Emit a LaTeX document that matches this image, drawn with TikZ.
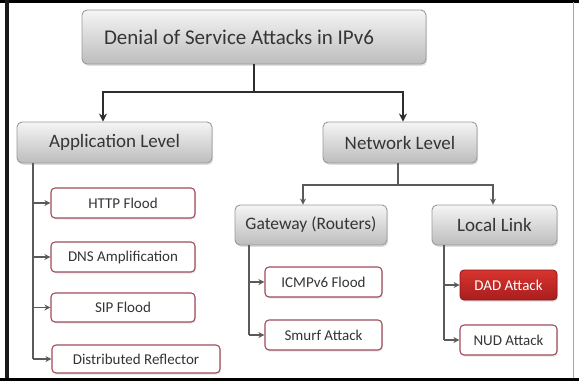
\documentclass[tikz,border=0pt]{standalone}
\usepackage{fontspec}
\setmainfont{Carlito}
\usetikzlibrary{arrows.meta,shadows}
\definecolor{txt}{HTML}{353535}
\definecolor{lvlborder}{HTML}{9A9A9A}
\definecolor{leafborder}{HTML}{9E4C5A}
\definecolor{lineclr}{HTML}{2E2E2E}
\definecolor{subline}{HTML}{5A5A5A}
\definecolor{dadtop}{HTML}{D8342E}
\definecolor{dadbot}{HTML}{A81E1E}
\tikzset{
  lvl/.style={draw=lvlborder, line width=0.9pt, rounded corners=5pt,
    top color=white!96!black, bottom color=white!74!black,
    text=txt, inner sep=0pt, align=center,
    drop shadow={opacity=0.25, shadow xshift=1.2pt, shadow yshift=-1.8pt}},
  leaf/.style={draw=leafborder, line width=1.1pt, rounded corners=4pt, fill=white,
    text=txt, inner sep=0pt, font=\fontsize{15}{17}\selectfont,
    drop shadow={opacity=0.2, shadow xshift=1pt, shadow yshift=-1.5pt}},
  dadbox/.style={draw=dadbot!80!black, line width=0.8pt, rounded corners=4pt,
    top color=dadtop, bottom color=dadbot, text=white, inner sep=0pt,
    font=\fontsize{15}{17}\selectfont,
    drop shadow={opacity=0.25, shadow xshift=1pt, shadow yshift=-1.5pt}},
  mainarr/.style={draw=lineclr, line width=1.8pt, -{Stealth[length=8pt,width=8pt]}},
  subarr/.style={draw=subline, line width=1.4pt, -{Stealth[length=6pt,width=6pt]}},
  subline/.style={draw=subline, line width=1.4pt},
}
\begin{document}
\begin{tikzpicture}[x=1pt,y=-1pt]
\useasboundingbox (0,0) rectangle (579,381);
\fill[white] (0,0) rectangle (579,381);
% frame
\fill[black] (0,0) rectangle (579,2.5);
\fill[black!90] (5,0) rectangle (9,381);
\fill[black] (0,378) rectangle (579,381);
\draw[black!35, line width=1pt] (573,2) -- (573,378);

% level nodes
\node[lvl, minimum width=344pt, minimum height=54pt, font=\fontsize{21}{24}\selectfont] (title) at (254,37) {Denial of Service Attacks in IPv6\hspace*{30pt}};
\node[lvl, minimum width=195pt, minimum height=41pt, font=\fontsize{19}{21}\selectfont] (app) at (114.5,142.5) {Application Level};
\node[lvl, minimum width=154pt, minimum height=41pt, font=\fontsize{19}{21}\selectfont] (net) at (400,142.5) {Network Level};
\node[lvl, minimum width=152pt, minimum height=40pt, font=\fontsize{17.5}{20}\selectfont] (gw) at (311,225) {Gateway (Routers)};
\node[lvl, minimum width=125pt, minimum height=40pt, font=\fontsize{19}{21}\selectfont] (ll) at (494.5,225) {Local Link};

% leaves
\node[leaf, minimum width=144pt, minimum height=30pt] (http) at (123,203) {HTTP Flood};
\node[leaf, minimum width=144pt, minimum height=30pt] (dns) at (123,257) {DNS Amplification};
\node[leaf, minimum width=144pt, minimum height=29pt] (sip) at (123,307.5) {SIP Flood};
\node[leaf, minimum width=168pt, minimum height=28pt] (dr) at (136,359) {Distributed Reflector};
\node[leaf, minimum width=117pt, minimum height=30pt] (icmp) at (323.5,282) {ICMPv6 Flood};
\node[leaf, minimum width=117pt, minimum height=30pt] (smurf) at (323.5,335) {Smurf Attack};
\node[dadbox, minimum width=97pt, minimum height=30pt] (dad) at (508.5,285) {DAD Attack};
\node[leaf, minimum width=97pt, minimum height=30pt] (nud) at (508.5,340) {NUD Attack};

% top connectors
\coordinate (aL) at (103,92);
\coordinate (aR) at (403,92);
\draw[draw=lineclr, line width=1.8pt] (title.south) -- (title.south |- aL);
\draw[mainarr] (aR) -- (aL) -- (aL |- app.north);
\draw[mainarr] (aL) -- (aR) -- (aR |- net.north);

% network connectors
\coordinate (bL) at (303,185);
\coordinate (bR) at (493,185);
\coordinate (bS) at (398,163);
\draw[subline] (bS) -- (bS |- bL);
\draw[subarr] (bR) -- (bL) -- (bL |- gw.north);
\draw[subarr] (bL) -- (bR) -- (bR |- ll.north);

% application leaves
\coordinate (cA) at (33,163);
\draw[subline] (cA) -- (cA |- dr.west);
\draw[subarr] (cA |- http.west) -- (http.west);
\draw[subarr] (cA |- dns.west) -- (dns.west);
\draw[subarr] (cA |- sip.west) -- (sip.west);
\draw[subarr] (cA |- dr.west) -- (dr.west);

% gateway leaves
\coordinate (cG) at (249,245);
\draw[subline] (cG) -- (cG |- smurf.west);
\draw[subarr] (cG |- icmp.west) -- (icmp.west);
\draw[subarr] (cG |- smurf.west) -- (smurf.west);

% local link leaves
\coordinate (cL) at (444,245);
\draw[subline] (cL) -- (cL |- nud.west);
\draw[subarr] (cL |- dad.west) -- (dad.west);
\draw[subarr] (cL |- nud.west) -- (nud.west);
\end{tikzpicture}
\end{document}
